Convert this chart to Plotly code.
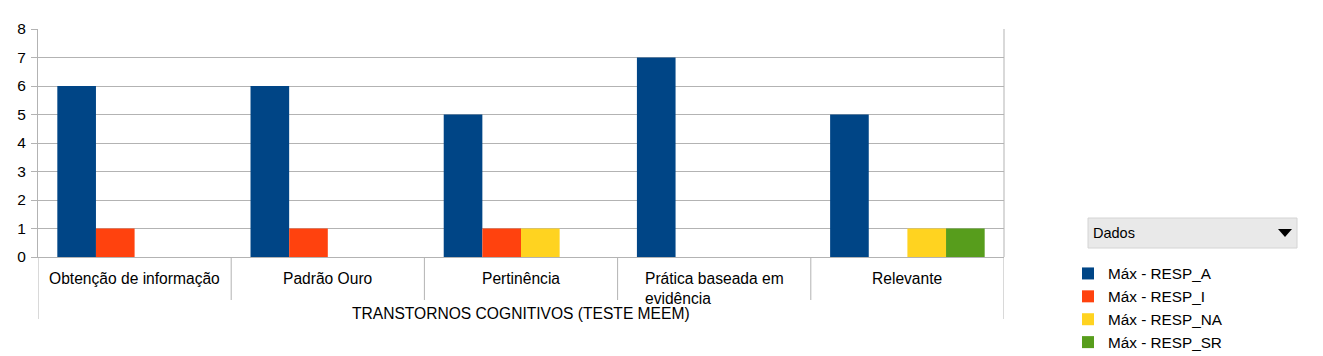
import plotly.graph_objects as go

categories = ["Obtenção de informação", "Padrão Ouro", "Pertinência",
              "Prática baseada em<br>evidência", "Relevante"]
series_names = ["Máx - RESP_A", "Máx - RESP_I", "Máx - RESP_NA", "Máx - RESP_SR"]
resp_a = [6, 6, 5, 7, 5]
resp_i = [1, 1, 1, None, None]
resp_na = [None, None, 1, None, 1]
resp_sr = [None, None, None, None, 1]
colors = ["#004586", "#ff420e", "#ffd320", "#579d1c"]
y_ticks = [0, 1, 2, 3, 4, 5, 6, 7, 8]
axis_title = "TRANSTORNOS COGNITIVOS (TESTE MEEM)"
legend_title = "Dados"

FONT = "Liberation Sans, Arial, sans-serif"
idx = list(range(len(categories)))

# page body has an 8px margin; compensate so the plot lands where the reference has it
OFF = 8
L, R, T, B = 38, 1004, 29, 257  # plot-area edges in window pixels
W, H = 1323 - OFF, 356 - OFF
PW, PH = R - L, B - T


def px(xw):
    return (xw - L) / PW


def py(yw):
    return (B - yw) / PH


fig = go.Figure()
for name, vals, col in zip(series_names, [resp_a, resp_i, resp_na, resp_sr], colors):
    fig.add_trace(go.Bar(x=idx, y=vals, name=name, marker=dict(color=col, line=dict(width=0))))

shapes = []
for b in [i - 0.5 for i in idx] + [idx[-1] + 0.5]:
    outer = b in (idx[0] - 0.5, idx[-1] + 0.5)
    shapes.append(dict(type="line", xref="x", yref="paper", x0=b, x1=b,
                       y0=0, y1=py(319) if outer else py(300),
                       line=dict(color="#b3b3b3", width=1)))
shapes.append(dict(type="line", xref="paper", yref="paper", x0=1, x1=1, y0=0, y1=1,
                   line=dict(color="#b3b3b3", width=1)))
# dropdown box holding the legend title
shapes.append(dict(type="rect", xref="paper", yref="paper",
                   x0=px(1088), x1=px(1297), y0=py(248), y1=py(218),
                   fillcolor="#e9e9e9", line=dict(color="#d4d4d4", width=1), layer="below"))
shapes.append(dict(type="path", xref="paper", yref="paper",
                   path="M {a},{b} L {c},{b} L {d},{e} Z".format(
                       a=px(1278), c=px(1292), d=px(1285), b=py(229), e=py(237)),
                   fillcolor="#000000", line=dict(width=0)))

annotations = []
for i, c in zip(idx, categories):
    annotations.append(dict(x=i, y=py(268), xref="x", yref="paper",
                            text=c, showarrow=False, xanchor="center",
                            yanchor="top", align="left",
                            font=dict(family=FONT, size=15.6, color="#000000")))
annotations.append(dict(x=(idx[0] + idx[-1]) / 2, y=py(303), xref="x", yref="paper",
                        text=axis_title, showarrow=False, xanchor="center", yanchor="top",
                        font=dict(family=FONT, size=15.6, color="#000000")))
annotations.append(dict(x=px(1091), y=py(233), xref="paper", yref="paper",
                        text=legend_title, showarrow=False, xanchor="left", yanchor="middle",
                        font=dict(family=FONT, size=14.5, color="#000000")))

fig.update_layout(
    width=W, height=H,
    margin=dict(l=L - OFF, r=W - (R - OFF), t=T - OFF, b=H - (B - OFF), autoexpand=False),
    paper_bgcolor="white", plot_bgcolor="white",
    barmode="group", bargap=0.2, bargroupgap=0,
    font=dict(family=FONT, size=15, color="#000000"),
    showlegend=True,
    legend=dict(x=px(1068), y=py(257), xanchor="left", yanchor="top",
                font=dict(family=FONT, size=15.3, color="#000000"),
                itemwidth=30, bgcolor="rgba(0,0,0,0)", tracegroupgap=0),
    shapes=shapes, annotations=annotations,
)
fig.update_xaxes(range=[-0.5, len(categories) - 0.5], showticklabels=False, showgrid=False,
                 showline=True, linecolor="#b3b3b3", linewidth=1, ticks="", zeroline=False,
                 fixedrange=True)
fig.update_yaxes(range=[0, 8], tickvals=y_ticks, showgrid=True, gridcolor="#b3b3b3", gridwidth=1,
                 showline=True, linecolor="#b3b3b3", linewidth=1, ticks="outside", ticklen=6,
                 tickcolor="#b3b3b3", zeroline=False, tickfont=dict(family=FONT, size=15.5),
                 ticklabelstandoff=2)

fig.write_html("out.html")
